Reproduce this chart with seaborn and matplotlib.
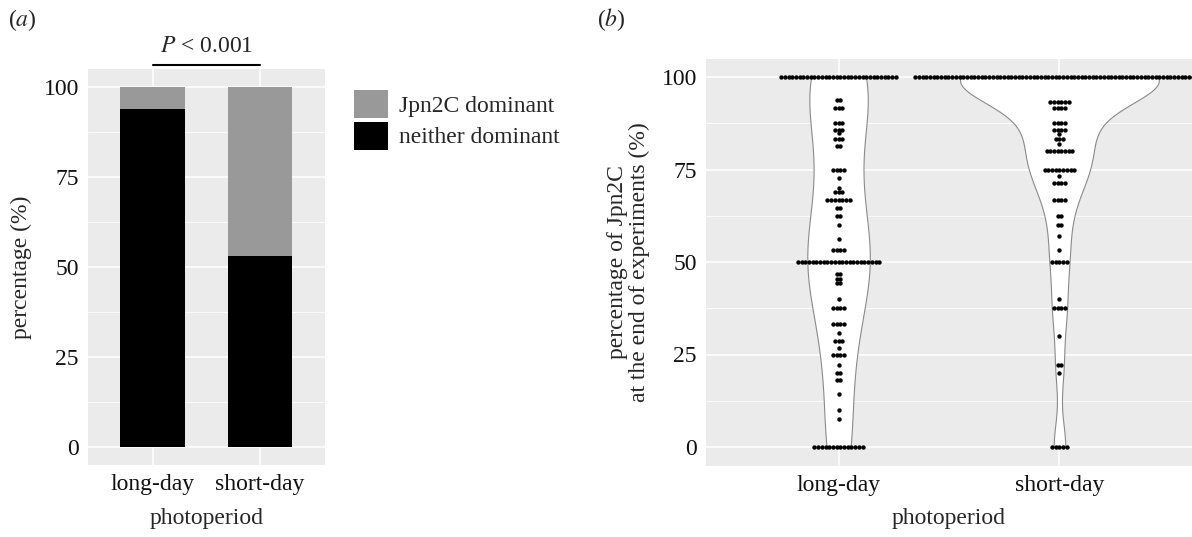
import numpy as np
import pandas as pd
import matplotlib
matplotlib.use("Agg")
import matplotlib.pyplot as plt
from matplotlib.patches import Patch
from matplotlib.ticker import FixedLocator
import seaborn as sns

# ---------------- data ----------------
categories = ["long-day", "short-day"]
neither_dominant = [94, 53]
jpn2c_dominant = [6, 47]

ld_values = [100, 93.8, 91.7, 87.5, 85.7, 84.8, 83.3, 81.3, 75, 72.7, 70, 68.8,
             66.7, 64.7, 62.5, 60, 56.3, 53.3, 50, 46.7, 45.5, 44.4, 40, 37.5,
             33.3, 30.8, 28.6, 26.7, 25, 22.2, 20, 18.2, 14.3, 10, 7.7, 0]
ld_counts = [32, 2, 3, 3, 3, 1, 3, 2, 4, 1, 1, 3,
             7, 2, 2, 1, 1, 4, 23, 2, 2, 2, 1, 4,
             4, 1, 3, 1, 4, 1, 2, 2, 1, 1, 1, 14]

sd_values = [100, 93.3, 91.7, 87.5, 85.7, 84.6, 83.3, 81.8, 80, 75, 73.3, 71.4,
             66.7, 62.5, 60, 57.1, 53.3, 50, 40, 37.5, 30, 22.2, 20, 0]
sd_counts = [79, 6, 4, 4, 4, 1, 3, 1, 8, 9, 1, 4,
             4, 2, 2, 1, 1, 5, 1, 4, 1, 2, 1, 5]

yticks = [0, 25, 50, 75, 100]

# ---------------- style ----------------
sns.set_theme(style="darkgrid", rc={
    "axes.facecolor": "#EBEBEB",
    "grid.color": "white",
    "grid.linewidth": 1.1,
    "axes.edgecolor": "#EBEBEB",
})
plt.rcParams["font.family"] = ["Liberation Serif", "DejaVu Serif"]
plt.rcParams["mathtext.fontset"] = "stix"
FS = 17

W, H = 1192, 537
fig = plt.figure(figsize=(W / 100, H / 100), dpi=100)


def axes_px(left, right, top, bottom):
    return fig.add_axes([left / W, 1 - bottom / H, (right - left) / W, (bottom - top) / H])


def style_axis(ax):
    ax.set_ylim(-5, 105)
    ax.set_yticks(yticks)
    ax.yaxis.set_minor_locator(FixedLocator([12.5, 37.5, 62.5, 87.5]))
    ax.grid(which="major", color="white", linewidth=1.1)
    ax.grid(which="minor", color="white", linewidth=0.55)
    ax.tick_params(axis="both", which="major", length=3.5, width=0.8, color="#333333",
                   labelsize=FS, labelcolor="#111111", pad=3)
    ax.tick_params(which="minor", length=0)
    for s in ax.spines.values():
        s.set_visible(False)
    ax.set_axisbelow(True)


# ---------------- panel a ----------------
axa = axes_px(88, 324.5, 69, 465)
totals = [n + d for n, d in zip(neither_dominant, jpn2c_dominant)]
sns.barplot(x=categories, y=totals, color="#999999", saturation=1, width=0.6,
            edgecolor="none", linewidth=0, ax=axa)
sns.barplot(x=categories, y=neither_dominant, color="black", saturation=1, width=0.6,
            edgecolor="none", linewidth=0, ax=axa)
style_axis(axa)
axa.set_xlim(-0.6, 1.6)
axa.set_xlabel("photoperiod", fontsize=FS, labelpad=9)
axa.set_ylabel("percentage (%)", fontsize=FS, labelpad=8)
axa.plot([0, 1], [106.2, 106.2], color="black", lw=1.5, clip_on=False)
axa.text(0.5, 111.2, r"$P$ < 0.001", ha="center", va="center", fontsize=FS)

handles = [Patch(facecolor="#999999", edgecolor="none", label="Jpn2C dominant"),
           Patch(facecolor="black", edgecolor="none", label="neither dominant")]
fig.legend(handles=handles, loc="upper left", bbox_to_anchor=(354 / W, 1 - 90 / H),
           frameon=False, fontsize=FS, handlelength=1.45, handleheight=1.45,
           handletextpad=0.45, labelspacing=0.15, borderpad=0, borderaxespad=0)

# ---------------- panel b ----------------
axb = axes_px(706, 1192, 58.5, 465.5)
df = pd.DataFrame({
    "photoperiod": np.repeat(categories, [sum(ld_counts), sum(sd_counts)]),
    "pct": np.concatenate([np.repeat(ld_values, ld_counts), np.repeat(sd_values, sd_counts)]),
})


def robust_bw(kde):
    # n^-1/5 * min(sd, 0.9 * IQR / 1.34), expressed as a factor of the sd
    d = np.asarray(kde.dataset).ravel()
    sd = d.std(ddof=1)
    q75, q25 = np.percentile(d, [75, 25])
    spread = min(sd, 0.9 * (q75 - q25) / 1.34)
    if spread <= 0:
        spread = sd
    return spread * len(d) ** (-0.2) / sd


sns.violinplot(data=df, x="photoperiod", y="pct", order=categories, color="white",
               saturation=1, linecolor="#8a8a8a", linewidth=0.8, inner=None, cut=0,
               density_norm="area", width=0.9, bw_method=robust_bw, bw_adjust=1.1,
               gridsize=300, ax=axb)
style_axis(axb)
axb.set_xlim(-0.6, 1.6)

# dot plot (centered stacks, binwidth = 1 y-unit)
fig.canvas.draw()
bb = axb.get_window_extent()
px_per_y = bb.height / 110.0
px_per_x = bb.width / 2.2
pitch = 1.0 * px_per_y / px_per_x
for gi, (vals, cnts) in enumerate([(ld_values, ld_counts), (sd_values, sd_counts)]):
    for v, n in zip(vals, cnts):
        offs = (np.arange(n) - (n - 1) / 2.0) * pitch
        axb.scatter(gi + offs, np.full(n, v), s=10, color="black", linewidths=0, zorder=5)

axb.set_xlabel("photoperiod", fontsize=FS, labelpad=9)
axb.set_ylabel("percentage of Jpn2C\nat the end of experiments (%)", fontsize=FS,
               labelpad=8, linespacing=1.1)

fig.text(8 / W, 1 - 20 / H, r"($\it{a}$)", fontsize=FS, va="center", ha="left")
fig.text(597 / W, 1 - 20 / H, r"($\it{b}$)", fontsize=FS, va="center", ha="left")

fig.savefig("out.png", dpi=100)
